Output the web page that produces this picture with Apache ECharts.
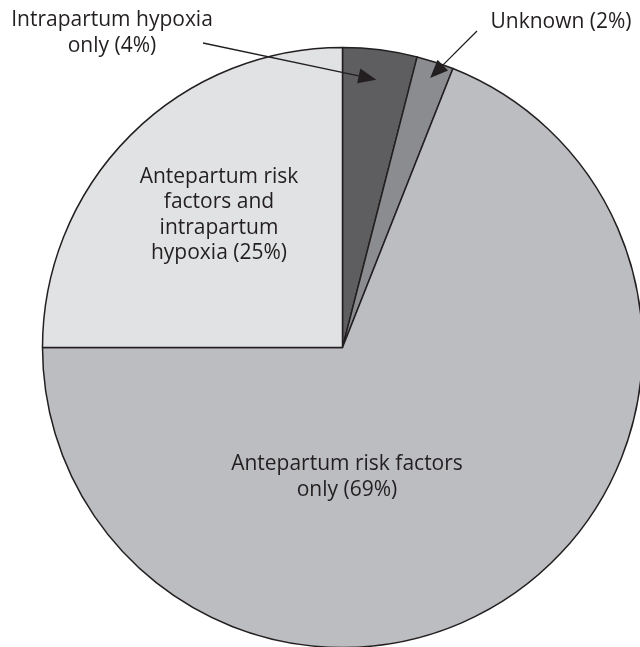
<!DOCTYPE html>
<html>
<head>
<meta charset="utf-8">
<script src="https://cdn.jsdelivr.net/npm/echarts@6/dist/echarts.min.js"></script>
<style>
  html, body { margin: 0; padding: 0; background: #fff; }
  #chart { width: 640px; height: 647px; }
</style>
</head>
<body>
<div id="chart"></div>
<script>
// Causes of the outcome, shares in percent (clockwise from 12 o'clock)
const categories = [
  'Intrapartum hypoxia\nonly',
  'Unknown',
  'Antepartum risk factors\nonly',
  'Antepartum risk\nfactors and\nintrapartum\nhypoxia'
];
const shares = [4, 2, 69, 25];
const labelTexts = [
  'Intrapartum hypoxia\nonly (4%)',
  'Unknown (2%)',
  'Antepartum risk factors\nonly (69%)',
  'Antepartum risk\nfactors and\nintrapartum\nhypoxia (25%)'
];

const sliceColors = ['#5e5e60', '#8b8c8f', '#bcbdc0', '#e1e2e3'];
const ink = '#231f20';
const FONT = '"Open Sans", "Noto Sans", sans-serif';

const CX = 342.5, CY = 347.5, R = 300;

// Where each label's text block is centred
const labelPos = [
  { x: 112, y: 33 },
  { x: 561, y: 22 },
  { x: 347, y: 477 },
  { x: 219, y: 215 }
];
// Arrow tails for the two small slices (tips are derived from slice angles)
const arrowTails = { 0: [203, 43], 1: [477, 31] };
const arrowDepth = { 0: 0.9, 1: 0.945 };

const chart = echarts.init(document.getElementById('chart'), null, { renderer: 'canvas' });

const total = shares.reduce((a, b) => a + b, 0);
function midAngle(i) {
  let cum = 0;
  for (let k = 0; k < i; k++) cum += shares[k];
  return (cum + shares[i] / 2) / total * 2 * Math.PI;
}

function arrow(i) {
  const a = midAngle(i);
  const f = arrowDepth[i];
  const tip = [CX + f * R * Math.sin(a), CY - f * R * Math.cos(a)];
  const tail = arrowTails[i];
  const dx = tip[0] - tail[0], dy = tip[1] - tail[1];
  const len = Math.hypot(dx, dy);
  const ux = dx / len, uy = dy / len;
  const headL = 18, headW = 7.5;
  const base = [tip[0] - ux * headL, tip[1] - uy * headL];
  return [
    {
      type: 'line',
      shape: { x1: tail[0], y1: tail[1], x2: base[0], y2: base[1] },
      style: { stroke: ink, lineWidth: 1.3 },
      z: 10
    },
    {
      type: 'polygon',
      shape: {
        points: [
          tip,
          [base[0] - uy * headW, base[1] + ux * headW],
          [base[0] + uy * headW, base[1] - ux * headW]
        ]
      },
      style: { fill: ink },
      z: 10
    }
  ];
}

const option = {
  animation: false,
  backgroundColor: '#ffffff',
  series: [{
    type: 'pie',
    center: [CX, CY],
    radius: [0, R],
    startAngle: 90,
    clockwise: true,
    avoidLabelOverlap: false,
    data: categories.map((name, i) => ({
      name: name,
      value: shares[i],
      itemStyle: { color: sliceColors[i] },
      label: {
        formatter: labelTexts[i],
        position: i < 2 ? 'outside' : 'inside'
      }
    })),
    itemStyle: { borderColor: ink, borderWidth: 1.5 },
    label: {
      show: true,
      color: ink,
      fontFamily: FONT,
      fontSize: 21,
      lineHeight: 25.5,
      align: 'center'
    },
    labelLine: { show: false },
    labelLayout: function (params) {
      const p = labelPos[params.dataIndex];
      return { x: p.x, y: p.y, align: 'center', verticalAlign: 'middle' };
    },
    emphasis: { disabled: true }
  }],
  graphic: [].concat(arrow(0), arrow(1))
};

chart.setOption(option);
</script>
</body>
</html>
